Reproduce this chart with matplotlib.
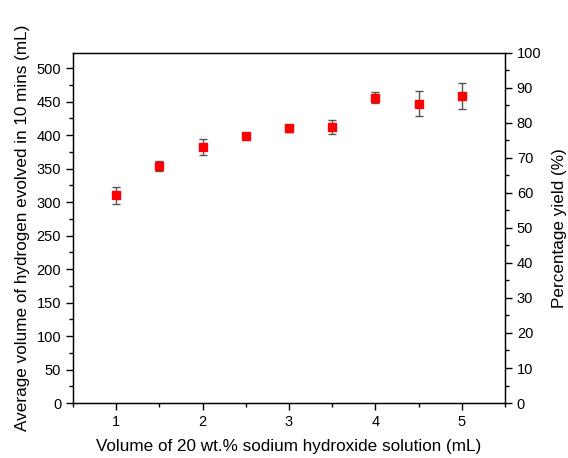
import matplotlib
matplotlib.use("Agg")
import matplotlib.pyplot as plt
from matplotlib.ticker import MultipleLocator

plt.rcParams['font.family'] = ['Liberation Sans', 'DejaVu Sans']

naoh_ml = [1.0, 1.5, 2.0, 2.5, 3.0, 3.5, 4.0, 4.5, 5.0]
h2_ml = [310, 354, 382, 398, 410, 412, 456, 447, 458]
h2_err = [13, 8, 12, 2, 5, 10, 8, 19, 19]

fig = plt.figure(figsize=(5.68, 4.58), dpi=100)
ax = fig.add_axes([0.1285, 0.120, 0.7605, 0.765])

ax.errorbar(naoh_ml, h2_ml, yerr=h2_err, fmt='s', color='red', markersize=6,
            ecolor='#555555', elinewidth=1.0, capsize=3, capthick=1.0, zorder=3)

ax.set_xlim(0.5, 5.5)
ax.set_ylim(0, 523)
ax.xaxis.set_major_locator(MultipleLocator(1))
ax.xaxis.set_minor_locator(MultipleLocator(0.5))
ax.yaxis.set_major_locator(MultipleLocator(50))
ax.yaxis.set_minor_locator(MultipleLocator(25))
ax.tick_params(which='major', direction='out', length=5, width=1, labelsize=10.5)
ax.tick_params(which='minor', direction='out', length=3, width=1)
ax.set_xlabel('Volume of 20 wt.% sodium hydroxide solution (mL)', fontsize=12.3, labelpad=7)
ax.set_ylabel('Average volume of hydrogen evolved in 10 mins (mL)', fontsize=12.3, labelpad=5)
for s in ax.spines.values():
    s.set_linewidth(1.0)

ax2 = ax.twinx()
ax2.set_ylim(0, 100)
ax2.yaxis.set_major_locator(MultipleLocator(10))
ax2.yaxis.set_minor_locator(MultipleLocator(5))
ax2.tick_params(which='major', direction='out', length=5, width=1, labelsize=10.5)
ax2.tick_params(which='minor', direction='out', length=3, width=1)
ax2.set_ylabel('Percentage yield (%)', fontsize=12.3, labelpad=8)

fig.savefig('out.png', dpi=100)
